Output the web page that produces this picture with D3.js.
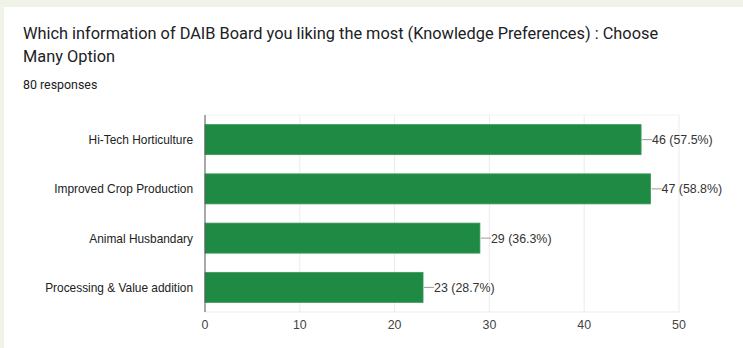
<!DOCTYPE html>
<html>
<head>
<meta charset="utf-8">
<script src="https://cdn.jsdelivr.net/npm/d3@7"></script>
<style>
  body { margin: 0; background: #f0f3e8; }
  #chart { position: absolute; left: 0; top: 0; }
</style>
</head>
<body>
<div id="chart"></div>
<script>
const categories = ["Hi-Tech Horticulture", "Improved Crop Production", "Animal Husbandary", "Processing & Value addition"];
const counts = [46, 47, 29, 23];
const percents = ["57.5%", "58.8%", "36.3%", "28.7%"];
const xTicks = [0, 10, 20, 30, 40, 50];

const width = 743, height = 348;

const svg = d3.select("#chart")
    .append("svg")
    .attr("width", width)
    .attr("height", height);

// white card
svg.append("rect")
    .attr("x", 4)
    .attr("y", 7)
    .attr("width", width)
    .attr("height", height)
    .attr("fill", "#fff");

svg.append("text")
    .attr("x", 23)
    .attr("y", 39)
    .attr("font-family", "Roboto, 'Noto Sans', sans-serif")
    .attr("font-size", "16.35px")
    .attr("fill", "#202124")
    .text("Which information of DAIB Board you liking the most (Knowledge Preferences) : Choose");

svg.append("text")
    .attr("x", 23)
    .attr("y", 62)
    .attr("font-family", "Roboto, 'Noto Sans', sans-serif")
    .attr("font-size", "16.35px")
    .attr("fill", "#202124")
    .text("Many Option");

svg.append("text")
    .attr("x", 23)
    .attr("y", 89)
    .attr("font-family", "Roboto, 'Noto Sans', sans-serif")
    .attr("font-size", "12.4px")
    .attr("fill", "#202124")
    .text("80 responses");

const plotL = 205, plotT = 115, plotW = 474, plotH = 197;

const x = d3.scaleLinear().domain([0, 50]).range([plotL, plotL + plotW]);
const y = d3.scaleBand().domain(categories).range([plotT, plotT + plotH]).paddingInner(0.39).paddingOuter(0.195);

const g = svg.append("g")
    .attr("font-family", "'Liberation Sans', Arial, sans-serif");

// gridlines
g.selectAll(".grid")
    .data(xTicks.slice(1))
    .enter()
    .append("line")
    .attr("x1", d => x(d))
    .attr("x2", d => x(d))
    .attr("y1", plotT)
    .attr("y2", plotT + plotH)
    .attr("stroke", "#ebebeb");

g.append("line")
    .attr("x1", plotL)
    .attr("x2", plotL + plotW)
    .attr("y1", plotT)
    .attr("y2", plotT)
    .attr("stroke", "#f2f2f2");
g.append("line")
    .attr("x1", plotL)
    .attr("x2", plotL + plotW)
    .attr("y1", plotT + plotH)
    .attr("y2", plotT + plotH)
    .attr("stroke", "#ebebeb");

// bars
g.selectAll(".bar")
    .data(categories)
    .enter()
    .append("rect")
    .attr("x", x(0))
    .attr("y", d => y(d))
    .attr("width", (d, i) => x(counts[i]) - x(0))
    .attr("height", y.bandwidth())
    .attr("fill", "#1e8a43")
    .attr("stroke", "#3c9a5a")
    .attr("stroke-width", 0.8);

// value labels with leader lines
categories.forEach((c, i) => {
    const cy = y(c) + y.bandwidth() / 2;
    g.append("line")
        .attr("x1", x(counts[i]) + 1)
        .attr("x2", x(counts[i]) + 11)
        .attr("y1", cy)
        .attr("y2", cy)
        .attr("stroke", "#999");
    g.append("text")
        .attr("x", x(counts[i]) + 11)
        .attr("y", cy + 4.5)
        .attr("font-size", "12.4px")
        .attr("fill", "#333")
        .text(counts[i] + " (" + percents[i] + ")");
});

// axis line at zero
g.append("line")
    .attr("x1", x(0))
    .attr("x2", x(0))
    .attr("y1", plotT)
    .attr("y2", plotT + plotH)
    .attr("stroke", "#555");

// category labels
g.selectAll(".cat")
    .data(categories)
    .enter()
    .append("text")
    .attr("x", 193)
    .attr("y", d => y(d) + y.bandwidth() / 2 + 4.5)
    .attr("text-anchor", "end")
    .attr("font-size", "11.9px")
    .attr("fill", "#222")
    .text(d => d);

// x tick labels
g.selectAll(".tick")
    .data(xTicks)
    .enter()
    .append("text")
    .attr("x", d => x(d))
    .attr("y", 329)
    .attr("text-anchor", "middle")
    .attr("font-size", "12.4px")
    .attr("fill", "#444")
    .text(d => d);
</script>
</body>
</html>
